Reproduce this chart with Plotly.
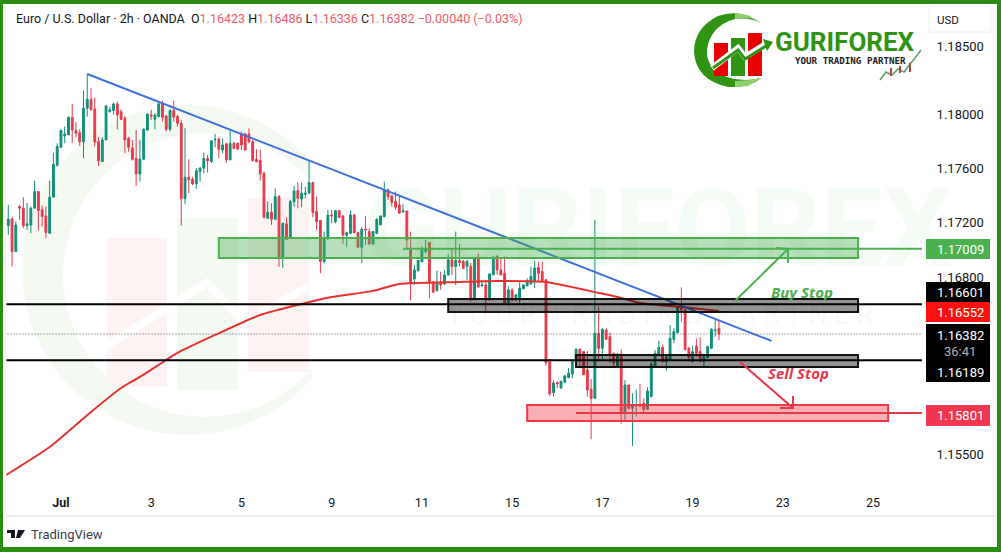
import plotly.graph_objects as go

# 2h EUR/USD candles
opens = [
    1.17179, 1.17228, 1.16988, 1.17319, 1.17307, 1.17179, 1.17184, 1.17307, 1.17429, 1.17295,
    1.17250, 1.17123, 1.17388, 1.17623, 1.17755, 1.17838, 1.17846, 1.17973, 1.17878, 1.17863,
    1.17794, 1.18042, 1.18108, 1.18037, 1.17797, 1.17650, 1.17809, 1.18017, 1.18025, 1.18074,
    1.18017, 1.17968, 1.17821, 1.17750, 1.17672, 1.17559, 1.17667, 1.17882, 1.17993, 1.17961,
    1.17981, 1.18078, 1.17985, 1.17887, 1.18025, 1.17981, 1.17931, 1.17378, 1.17535, 1.17520,
    1.17486, 1.17576, 1.17601, 1.17672, 1.17650, 1.17809, 1.17814, 1.17735, 1.17780, 1.17662,
    1.17784, 1.17784, 1.17853, 1.17853, 1.17853, 1.17796, 1.17666, 1.17657, 1.17564, 1.17233,
    1.17277, 1.17225, 1.17392, 1.16939, 1.17191, 1.17086, 1.17355, 1.17436, 1.17375, 1.17409,
    1.17417, 1.17495, 1.17282, 1.17216, 1.16914, 1.17086, 1.17257, 1.17208, 1.17289, 1.17250,
    1.17108, 1.17122, 1.17257, 1.17127, 1.17020, 1.17154, 1.17135, 1.17044, 1.17122, 1.17184,
    1.17245, 1.17441, 1.17397, 1.17355, 1.17331, 1.17279, 1.17287, 1.17000, 1.16787, 1.16848,
    1.16914, 1.16988, 1.17054, 1.16767, 1.16701, 1.16760, 1.16750, 1.16816, 1.16927, 1.16878,
    1.16922, 1.16915, 1.16878, 1.16878, 1.16633, 1.16939, 1.16736, 1.16743, 1.16633, 1.16817,
    1.16952, 1.16853, 1.16829, 1.16609, 1.16706, 1.16633, 1.16633, 1.16714, 1.16738, 1.16751,
    1.16768, 1.16871, 1.16841, 1.16780, 1.16192, 1.15952, 1.16025, 1.15984, 1.16028, 1.16062,
    1.16088, 1.16184, 1.16269, 1.16252, 1.16118, 1.15975, 1.15909, 1.16387, 1.16277, 1.16411,
    1.16363, 1.16240, 1.16137, 1.16235, 1.15811, 1.16007, 1.15836, 1.15853, 1.15860, 1.15873,
    1.15828, 1.15922, 1.16142, 1.16235, 1.16284, 1.16179, 1.16191, 1.16343, 1.16392, 1.16578,
    1.16559, 1.16277, 1.16179, 1.16294, 1.16252, 1.16179, 1.16208, 1.16277, 1.16407, 1.16423,
]
highs = [
    1.17331, 1.17245, 1.17209, 1.17331, 1.17388, 1.17344, 1.17319, 1.17510, 1.17429, 1.17326,
    1.17319, 1.17510, 1.17716, 1.17785, 1.17888, 1.17907, 1.17981, 1.18074, 1.17939, 1.17887,
    1.18172, 1.18292, 1.18189, 1.18120, 1.17829, 1.17829, 1.18066, 1.18054, 1.18083, 1.18091,
    1.18034, 1.17985, 1.17833, 1.17809, 1.17882, 1.17809, 1.17895, 1.18005, 1.18030, 1.18005,
    1.18091, 1.18098, 1.17993, 1.18034, 1.18098, 1.17993, 1.17956, 1.17895, 1.17667, 1.17535,
    1.17601, 1.17608, 1.17716, 1.17699, 1.17809, 1.17853, 1.17829, 1.17821, 1.17789, 1.17882,
    1.17796, 1.17789, 1.17870, 1.17862, 1.17894, 1.17809, 1.17740, 1.17735, 1.17576, 1.17355,
    1.17343, 1.17453, 1.17404, 1.17201, 1.17240, 1.17368, 1.17470, 1.17497, 1.17497, 1.17466,
    1.17657, 1.17502, 1.17392, 1.17221, 1.17135, 1.17294, 1.17294, 1.17294, 1.17294, 1.17257,
    1.17135, 1.17289, 1.17265, 1.17135, 1.17167, 1.17250, 1.17159, 1.17140, 1.17233, 1.17250,
    1.17502, 1.17453, 1.17404, 1.17429, 1.17392, 1.17338, 1.17287, 1.17135, 1.16890, 1.16927,
    1.17025, 1.17074, 1.17059, 1.16767, 1.16848, 1.16841, 1.16853, 1.16971, 1.17005, 1.17135,
    1.17045, 1.16927, 1.16927, 1.16903, 1.16947, 1.16976, 1.16780, 1.16780, 1.16829, 1.16952,
    1.16964, 1.16939, 1.16952, 1.16731, 1.16719, 1.16670, 1.16763, 1.16743, 1.16792, 1.16878,
    1.16922, 1.16915, 1.16915, 1.16785, 1.16192, 1.16040, 1.16033, 1.16035, 1.16082, 1.16131,
    1.16191, 1.16277, 1.16277, 1.16257, 1.16257, 1.16051, 1.17221, 1.16583, 1.16424, 1.16424,
    1.16392, 1.16245, 1.16240, 1.16269, 1.16044, 1.16007, 1.15946, 1.15975, 1.16015, 1.15909,
    1.15990, 1.16179, 1.16265, 1.16333, 1.16301, 1.16228, 1.16448, 1.16424, 1.16583, 1.16725,
    1.16571, 1.16289, 1.16296, 1.16350, 1.16358, 1.16228, 1.16296, 1.16424, 1.16497, 1.16486,
]
lows = [
    1.17111, 1.16878, 1.16988, 1.17221, 1.17160, 1.17147, 1.17123, 1.17307, 1.17143, 1.17172,
    1.17086, 1.17118, 1.17388, 1.17613, 1.17755, 1.17785, 1.17846, 1.17785, 1.17829, 1.17765,
    1.17674, 1.17980, 1.18030, 1.17760, 1.17618, 1.17650, 1.17809, 1.18010, 1.17993, 1.17887,
    1.17956, 1.17711, 1.17723, 1.17657, 1.17471, 1.17503, 1.17662, 1.17878, 1.17956, 1.17887,
    1.17976, 1.17944, 1.17870, 1.17870, 1.17944, 1.17907, 1.17179, 1.17339, 1.17417, 1.17478,
    1.17449, 1.17503, 1.17564, 1.17569, 1.17642, 1.17755, 1.17674, 1.17711, 1.17642, 1.17662,
    1.17740, 1.17735, 1.17735, 1.17730, 1.17784, 1.17649, 1.17644, 1.17510, 1.17233, 1.17228,
    1.17184, 1.17225, 1.16877, 1.16865, 1.17073, 1.17086, 1.17318, 1.17306, 1.17314, 1.17380,
    1.17417, 1.17240, 1.17147, 1.16829, 1.16902, 1.17073, 1.17196, 1.17196, 1.17233, 1.17044,
    1.17020, 1.17118, 1.17122, 1.17012, 1.16902, 1.17037, 1.17037, 1.17037, 1.17118, 1.17184,
    1.17240, 1.17368, 1.17318, 1.17294, 1.17270, 1.17274, 1.17000, 1.16628, 1.16743, 1.16841,
    1.16909, 1.16975, 1.16645, 1.16689, 1.16694, 1.16706, 1.16743, 1.16811, 1.16817, 1.16743,
    1.16878, 1.16858, 1.16780, 1.16621, 1.16633, 1.16719, 1.16731, 1.16547, 1.16628, 1.16817,
    1.16817, 1.16809, 1.16596, 1.16589, 1.16621, 1.16621, 1.16596, 1.16711, 1.16731, 1.16743,
    1.16719, 1.16768, 1.16775, 1.16148, 1.15927, 1.15923, 1.15984, 1.15984, 1.16021, 1.16057,
    1.16056, 1.16179, 1.16137, 1.16081, 1.15922, 1.15608, 1.15909, 1.16196, 1.16196, 1.16343,
    1.16171, 1.16137, 1.16130, 1.15721, 1.15738, 1.15828, 1.15559, 1.15774, 1.15848, 1.15794,
    1.15824, 1.15917, 1.16137, 1.16228, 1.16171, 1.16113, 1.16191, 1.16314, 1.16387, 1.16473,
    1.16260, 1.16179, 1.16171, 1.16215, 1.16174, 1.16137, 1.16203, 1.16272, 1.16362, 1.16336,
]
closes = [
    1.17226, 1.16988, 1.17184, 1.17307, 1.17177, 1.17192, 1.17307, 1.17429, 1.17290, 1.17246,
    1.17128, 1.17388, 1.17628, 1.17760, 1.17878, 1.17853, 1.17976, 1.17882, 1.17858, 1.17794,
    1.18042, 1.18108, 1.18030, 1.17794, 1.17655, 1.17809, 1.18059, 1.18030, 1.18074, 1.17993,
    1.17961, 1.17809, 1.17755, 1.17667, 1.17559, 1.17669, 1.17887, 1.17998, 1.17985, 1.17993,
    1.18074, 1.17976, 1.17887, 1.18025, 1.17976, 1.17931, 1.17378, 1.17535, 1.17515, 1.17486,
    1.17581, 1.17601, 1.17672, 1.17655, 1.17802, 1.17814, 1.17740, 1.17772, 1.17662, 1.17784,
    1.17747, 1.17742, 1.17772, 1.17735, 1.17796, 1.17657, 1.17649, 1.17559, 1.17240, 1.17277,
    1.17225, 1.17392, 1.16939, 1.17196, 1.17078, 1.17355, 1.17434, 1.17380, 1.17417, 1.17417,
    1.17495, 1.17274, 1.17208, 1.16914, 1.17086, 1.17257, 1.17250, 1.17289, 1.17240, 1.17110,
    1.17127, 1.17257, 1.17127, 1.17020, 1.17152, 1.17147, 1.17044, 1.17135, 1.17225, 1.17250,
    1.17441, 1.17392, 1.17348, 1.17314, 1.17270, 1.17287, 1.17074, 1.16755, 1.16853, 1.16922,
    1.17000, 1.17012, 1.16767, 1.16689, 1.16760, 1.16743, 1.16816, 1.16927, 1.16878, 1.16922,
    1.16907, 1.16866, 1.16915, 1.16633, 1.16939, 1.16731, 1.16743, 1.16633, 1.16824, 1.16947,
    1.16853, 1.16817, 1.16609, 1.16706, 1.16633, 1.16670, 1.16719, 1.16743, 1.16775, 1.16805,
    1.16866, 1.16829, 1.16775, 1.16172, 1.15942, 1.16021, 1.16016, 1.16035, 1.16074, 1.16094,
    1.16184, 1.16269, 1.16191, 1.16081, 1.15971, 1.15909, 1.16387, 1.16277, 1.16416, 1.16343,
    1.16235, 1.16171, 1.16235, 1.15811, 1.16007, 1.15836, 1.15860, 1.15860, 1.15853, 1.15828,
    1.15963, 1.16162, 1.16240, 1.16284, 1.16179, 1.16215, 1.16350, 1.16399, 1.16578, 1.16559,
    1.16269, 1.16211, 1.16252, 1.16240, 1.16179, 1.16215, 1.16289, 1.16416, 1.16411, 1.16382,
]
bars = list(range(len(opens)))

# moving average, sampled at a few bars
ema_bars = [-1, 11, 22, 30, 35, 42, 45, 55, 67, 78, 86, 97, 104, 120, 130, 143, 157, 162, 168, 179, 189]
ema_vals = [1.15338, 1.15551, 1.15809, 1.15985, 1.16066, 1.16191, 1.16243, 1.16375, 1.16522, 1.16603, 1.16654,
            1.16699, 1.16750, 1.16765, 1.16772, 1.16765, 1.16684, 1.16654, 1.16610, 1.16581, 1.16552]

trend_bars = [21, 203]
trend_vals = [1.18294, 1.16331]

tick_bars = [14, 38, 62, 86, 110, 134, 158, 182, 206, 230]
tick_text = ["<b>Jul</b>", "3", "5", "9", "11", "15", "17", "19", "23", "25"]
price_ticks = [1.185, 1.18, 1.176, 1.172, 1.168, 1.155]
price_text = ["1.18500", "1.18000", "1.17600", "1.17200", "1.16800", "1.15500"]

# zones: bar from, bar to, price low, price high
buy_zone = [56, 226, 1.16941, 1.17088]
upper_zone = [117, 226, 1.16544, 1.16640]
lower_zone = [151, 226, 1.16140, 1.16228]
sell_zone = [138, 234, 1.15743, 1.15860]
buy_stop_level = 1.17009
upper_level = 1.16601
lower_level = 1.16189
sell_stop_level = 1.15801
last_price = 1.16382

W, H = 1001, 552
PLOT_L, PLOT_R, PLOT_T, PLOT_B = 6, 925, 8, 484
UP, DOWN = "#0f9079", "#e63a4a"
FRAME = "#2a8c10"
FONT = "Roboto"


def px(x):
    return x / W


def py(y):
    return 1 - y / H


def paper_rect(x0, y0, x1, y1, fill, line="rgba(0,0,0,0)", width=0, layer="above"):
    return dict(type="rect", xref="paper", yref="paper", x0=px(x0), x1=px(x1), y0=py(y0), y1=py(y1),
                fillcolor=fill, line=dict(color=line, width=width), layer=layer)


def paper_circle(cx, cy, r, fill):
    return dict(type="circle", xref="paper", yref="paper", x0=px(cx - r), x1=px(cx + r), y0=py(cy + r), y1=py(cy - r),
                fillcolor=fill, line=dict(width=0), layer="below")


def paper_path(points, color, width=0, fill=None, layer="above"):
    d = "M" + " L".join(f"{px(a):.5f},{py(b):.5f}" for a, b in points)
    if fill:
        d += " Z"
    return dict(type="path", xref="paper", yref="paper", path=d, fillcolor=fill or "rgba(0,0,0,0)",
                line=dict(color=color, width=width), layer=layer)


def paper_text(x, y, text, size, color, anchor="left", family=FONT, **kw):
    return dict(xref="paper", yref="paper", x=px(x), y=py(y), text=text, showarrow=False, xanchor=anchor,
                yanchor="middle", font=dict(size=size, color=color, family=family), **kw)


def zone(z, fill, line):
    return dict(type="rect", xref="x", yref="y", x0=z[0], x1=z[1], y0=z[2], y1=z[3], fillcolor=fill,
                line=dict(color=line, width=2), layer="above")


def level(bar0, bar1, price, color, width=2, dash="solid"):
    return dict(type="line", xref="x", yref="y", x0=bar0, x1=bar1, y0=price, y1=price,
                line=dict(color=color, width=width, dash=dash), layer="above")


fig = go.Figure()
fig.add_trace(go.Candlestick(
    x=bars, open=opens, high=highs, low=lows, close=closes, whiskerwidth=0,
    increasing=dict(line=dict(color=UP, width=1), fillcolor=UP),
    decreasing=dict(line=dict(color=DOWN, width=1), fillcolor=DOWN),
    showlegend=False, hoverinfo="skip",
))
fig.add_trace(go.Scatter(x=ema_bars, y=ema_vals, mode="lines",
                         line=dict(color="#e5322f", width=2, shape="spline", smoothing=0.6),
                         showlegend=False, hoverinfo="skip"))
fig.add_trace(go.Scatter(x=trend_bars, y=trend_vals, mode="lines", line=dict(color="#3f6fe0", width=2),
                         showlegend=False, hoverinfo="skip"))

shapes = [
    # faint watermark behind the candles
    paper_circle(187, 270, 165, "#f4f9f2"),
    paper_circle(205, 275, 142, "#ffffff"),
    paper_rect(312, 100, 360, 440, "#ffffff", layer="below"),
    paper_rect(107, 238, 167, 387, "#fdf3f2", layer="below"),
    paper_rect(177, 218, 238, 390, "#f4f9f2", layer="below"),
    paper_rect(248, 198, 309, 372, "#fdf3f2", layer="below"),
    paper_path([(100, 350), (207, 283), (245, 323), (307, 287)], "#ffffff", 8, layer="below"),
    # zones and levels
    zone(buy_zone, "rgba(76,175,80,0.4)", "#4caf50"),
    zone(upper_zone, "rgba(0,0,0,0.42)", "#111111"),
    zone(lower_zone, "rgba(0,0,0,0.42)", "#111111"),
    zone(sell_zone, "rgba(242,54,69,0.4)", "#f23645"),
    level(-1, 243, upper_level, "#000000"),
    level(-1, 243, lower_level, "#000000"),
    level(105, 243, buy_stop_level, "#4caf50"),
    level(151, 243, sell_stop_level, "#e5394a"),
    level(-1, 243, last_price, "#555555", width=1, dash="1px,2px"),
    # hand-drawn arrows of the trade plan
    paper_path([(735, 301), (788, 249)], "#4caf50", 2),
    paper_path([(776, 248), (788, 249), (788, 263)], "#4caf50", 2),
    paper_path([(740, 362), (793, 408)], "#e5394a", 2),
    paper_path([(793, 396), (793, 408), (780, 408)], "#e5394a", 2),
    # price scale labels
    paper_rect(926, 239, 990, 259, "#4caf50"),
    paper_rect(926, 282, 990, 302, "#000000"),
    paper_rect(926, 302, 990, 322, "#ff0f0f"),
    paper_rect(926, 324, 990, 382, "#000000"),
    paper_rect(926, 405, 990, 426, "#f23650"),
    # USD button
    dict(type="rect", xref="paper", yref="paper", x0=px(929), x1=px(991), y0=py(6), y1=py(32),
         fillcolor="#ffffff", line=dict(color="#f0f0f0", width=1)),
    # separators and frame
    paper_path([(6, 516), (996, 516)], "#eeeeee", 2),
    paper_path([(6, 4), (6, 516)], "#eeeeee", 1),
    paper_rect(0, 0, 1001, 4, FRAME),
    paper_rect(0, 547, 1001, 552, FRAME),
    paper_rect(0, 0, 3, 552, FRAME),
    paper_rect(997, 0, 1001, 552, FRAME),
    # logo
    dict(type="path", xref="paper", yref="paper", fillcolor="#2f9414", line=dict(width=0),
         path=" ".join([
             f"M{px(761):.5f},{py(23):.5f}",
             f"Q{px(740):.5f},{py(8):.5f} {px(718):.5f},{py(16):.5f}",
             f"Q{px(694):.5f},{py(28):.5f} {px(694):.5f},{py(52):.5f}",
             f"Q{px(696):.5f},{py(80):.5f} {px(728):.5f},{py(87):.5f}",
             f"Q{px(750):.5f},{py(88):.5f} {px(761):.5f},{py(78):.5f}",
             f"Q{px(740):.5f},{py(83):.5f} {px(722):.5f},{py(75):.5f}",
             f"Q{px(706):.5f},{py(66):.5f} {px(707):.5f},{py(50):.5f}",
             f"Q{px(710):.5f},{py(26):.5f} {px(735):.5f},{py(19):.5f}",
             f"Q{px(750):.5f},{py(17):.5f} {px(761):.5f},{py(23):.5f} Z",
         ])),
    # lighter ends of the logo ring
    paper_path([(761, 23), (748, 15), (735, 13), (735, 19), (750, 18)], "#8fd06f", 0, fill="#8fd06f"),
    paper_path([(761, 78), (748, 86), (735, 87), (735, 81), (750, 80)], "#8fd06f", 0, fill="#8fd06f"),
    paper_rect(714, 43, 728, 76, "#e80000"),
    paper_rect(731, 38, 745, 76, "#2f9414"),
    paper_rect(748, 33, 762, 76, "#e80000"),
    paper_path([(712, 68), (738, 48), (745, 57), (764, 45)], "#ffffff", 6),
    paper_path([(713, 68), (738, 50), (745, 59), (766, 46)], "#2f9414", 3),
    paper_path([(763, 39), (773, 42), (767, 51)], "#2f9414", 0, fill="#2f9414"),
    paper_path([(880, 80), (886, 72), (892, 75), (898, 69), (904, 72), (910, 64), (915, 58), (921, 50)],
               "#5aa06a", 1.5),
    paper_path([(891, 68), (891, 76)], "#b5483f", 2),
    paper_path([(900, 66), (900, 73)], "#b5483f", 2),
    paper_path([(910, 63), (910, 72)], "#b5483f", 2),
    # TradingView mark
    paper_path([(7, 530), (15, 530), (15, 538), (11, 538), (11, 533), (7, 533)], "#131722", 0, fill="#131722"),
    paper_path([(18, 530), (25, 530), (20, 538), (16, 538)], "#131722", 0, fill="#131722"),
]

last_style = "color:#ee5a68"
header = ("Euro / U.S. Dollar · 2h · OANDA  "
          f"O<span style='{last_style}'>1.16423</span> H<span style='{last_style}'>1.16486</span> "
          f"L<span style='{last_style}'>1.16336</span> C<span style='{last_style}'>1.16382</span> "
          f"<span style='{last_style}'>−0.00040 (−0.03%)</span>")

annotations = [
    paper_text(14, 18, header, 12.5, "#131722"),
    paper_text(362, 229, "<b>GURIFOREX</b>", 110, "rgba(60,170,60,0.05)"),
    paper_text(445, 315, "Y O U R  T R A D I N G  P A R T N E R", 27, "rgba(0,0,0,0.035)"),
    paper_text(948, 20, "USD", 11.5, "#131722", anchor="center"),
    paper_text(773, 42, "<b>GURIFOREX</b>", 26, "#2f9414"),
    paper_text(793, 60, "<b>YOUR TRADING PARTNER</b>", 9.2, "#222222", family="DejaVu Sans Mono"),
    paper_text(960, 249, "1.17009", 13, "#ffffff", anchor="center"),
    paper_text(960, 292, "1.16601", 13, "#ffffff", anchor="center"),
    paper_text(960, 312, "1.16552", 13, "#ffffff", anchor="center"),
    paper_text(960, 335, "1.16382", 13, "#ffffff", anchor="center"),
    paper_text(960, 352, "36:41", 13, "#b4b4b4", anchor="center"),
    paper_text(960, 372, "1.16189", 13, "#ffffff", anchor="center"),
    paper_text(960, 415, "1.15801", 13, "#ffffff", anchor="center"),
    paper_text(802, 292, "<b><i>Buy Stop</i></b>", 15, "#4caf50", anchor="center", family="Open Sans"),
    paper_text(798, 373, "<b><i>Sell Stop</i></b>", 15, "#e5394a", anchor="center", family="Open Sans"),
    paper_text(29, 534, "TradingView", 13, "#3a3e4a"),
]

bar_at_left = -0.61
bar_at_right = 243.8
price_at_top = 1.18779
price_at_bottom = 1.15279

fig.update_layout(
    width=W, height=H, autosize=False, margin=dict(l=0, r=0, t=0, b=0),
    paper_bgcolor="#ffffff", plot_bgcolor="rgba(0,0,0,0)", showlegend=False,
    font=dict(family=FONT, size=13, color="#131722"),
    shapes=shapes, annotations=annotations,
    xaxis=dict(domain=[px(PLOT_L), px(PLOT_R)], range=[bar_at_left, bar_at_right], rangeslider=dict(visible=False),
               tickmode="array", tickvals=tick_bars, ticktext=tick_text, showgrid=False, zeroline=False,
               ticks="outside", ticklen=7, tickcolor="#ffffff", showline=False, tickfont=dict(size=12.5, color="#131722")),
    yaxis=dict(domain=[py(PLOT_B), py(PLOT_T)], range=[price_at_bottom, price_at_top], side="right",
               tickmode="array", tickvals=price_ticks, ticktext=price_text, showgrid=False, zeroline=False,
               ticks="outside", ticklen=8, tickcolor="#ffffff", showline=False, tickfont=dict(size=13, color="#131722")),
)

fig.write_html("out.html", config=dict(displayModeBar=False),
               post_script="document.body.style.margin='0';document.body.style.overflow='hidden';")
